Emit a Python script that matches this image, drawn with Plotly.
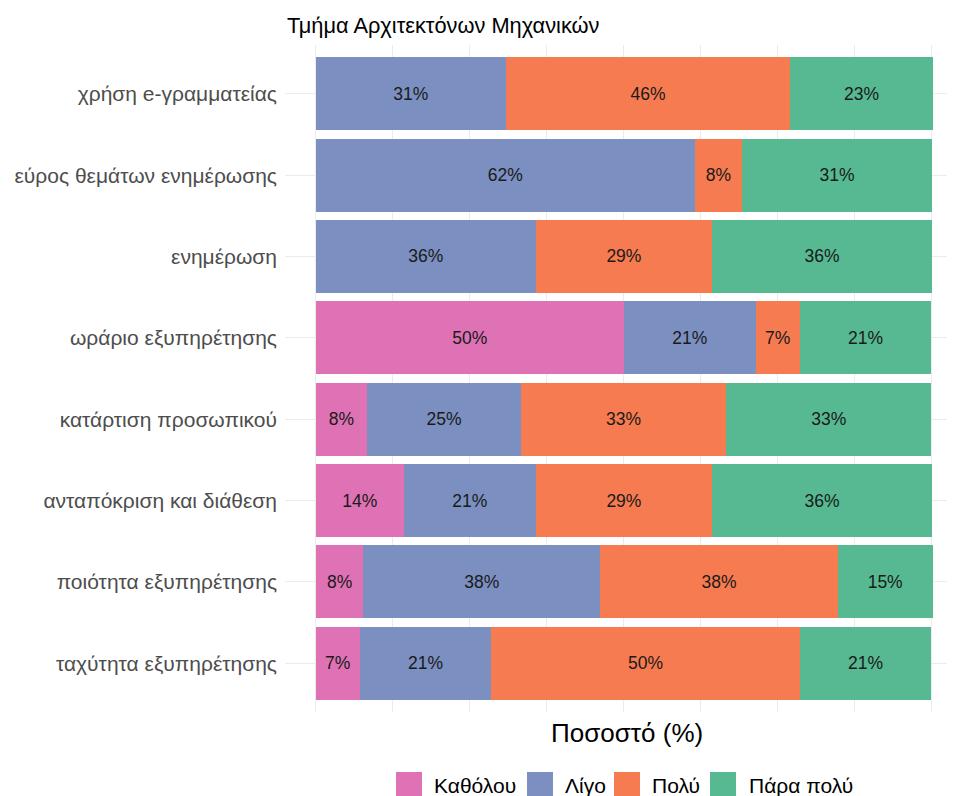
import plotly.graph_objects as go

categories = [
    "χρήση e-γραμματείας",
    "εύρος θεμάτων ενημέρωσης",
    "ενημέρωση",
    "ωράριο εξυπηρέτησης",
    "κατάρτιση προσωπικού",
    "ανταπόκριση και διάθεση",
    "ποιότητα εξυπηρέτησης",
    "ταχύτητα εξυπηρέτησης",
]
series_names = ["Καθόλου", "Λίγο", "Πολύ", "Πάρα πολύ"]
katholou = [None, None, None, 50.0, 8.3, 14.3, 7.7, 7.1]
ligo = [30.8, 61.5, 35.7, 21.4, 25.0, 21.4, 38.5, 21.4]
poly = [46.2, 7.7, 28.6, 7.1, 33.3, 28.6, 38.5, 50.0]
para_poly = [23.1, 30.8, 35.7, 21.4, 33.3, 35.7, 15.4, 21.4]
series_values = [katholou, ligo, poly, para_poly]
colors = ["#DF72B4", "#7B8FC0", "#F77B51", "#56B992"]
title_text = "Τμήμα Αρχιτεκτόνων Μηχανικών"
x_title = "Ποσοστό (%)"

FONT = "Liberation Sans, Arial, sans-serif"
OFF = 8  # page body margin
W, H = 955 - OFF, 796 - OFF
ML, MR, MT, MB = 285 - OFF, 0, 45 - OFF, 84
PW, PH = W - ML - MR, H - MT - MB


def px_x(p):
    return (p - OFF - ML) / PW


def px_y(p):
    return (H - MB - (p - OFF)) / PH


fig = go.Figure()
for name, vals, col in zip(series_names, series_values, colors):
    fig.add_trace(go.Bar(
        y=categories, x=vals, name=name, orientation="h",
        marker=dict(color=col, line=dict(width=0)),
        width=0.9,
        text=[("" if v is None else f"{v:.0f}%") for v in vals],
        textposition="inside", insidetextanchor="middle",
        textangle=0, constraintext="none",
        textfont=dict(family=FONT, size=17.5, color="#1a1a1a"),
        showlegend=False,
    ))

x_right = 100 + (955 - 932) / 6.16
fig.update_layout(
    width=W, height=H,
    margin=dict(l=ML, r=MR, t=MT, b=MB, pad=0),
    barmode="stack",
    plot_bgcolor="white", paper_bgcolor="white",
    font=dict(family=FONT),
    xaxis=dict(range=[-5, x_right], tick0=0, dtick=12.5, showticklabels=False,
               showgrid=True, gridcolor="#EBEBEB", gridwidth=1.1,
               zeroline=False, showline=False, ticks=""),
    yaxis=dict(range=[7.6, -0.6], categoryorder="array", categoryarray=categories,
               showgrid=True, gridcolor="#EBEBEB", gridwidth=1.1,
               zeroline=False, showline=False, ticks="",
               ticklabelstandoff=7,
               tickfont=dict(family=FONT, size=21, color="#4D4D4D")),
)

annotations = [
    dict(text=title_text, xref="paper", yref="paper", x=px_x(285), y=px_y(25),
         xanchor="left", yanchor="middle", showarrow=False,
         font=dict(family=FONT, size=21.8, color="black")),
    dict(text=x_title, xref="paper", yref="paper", x=px_x(627), y=px_y(733),
         xanchor="center", yanchor="middle", showarrow=False,
         font=dict(family=FONT, size=26, color="black")),
]
shapes = []
leg_sq_x = [396, 527, 614, 710]
leg_tx_x = [432, 563, 650, 747]
for name, col, sx, tx in zip(series_names, colors, leg_sq_x, leg_tx_x):
    shapes.append(dict(type="rect", xref="paper", yref="paper",
                       x0=px_x(sx), x1=px_x(sx + 26), y0=px_y(798), y1=px_y(772),
                       fillcolor=col, line=dict(width=0)))
    annotations.append(dict(text=name, xref="paper", yref="paper", x=px_x(tx), y=px_y(786),
                            xanchor="left", yanchor="middle", showarrow=False,
                            font=dict(family=FONT, size=21, color="black")))
fig.update_layout(annotations=annotations, shapes=shapes)

fig.write_html("out.html")
